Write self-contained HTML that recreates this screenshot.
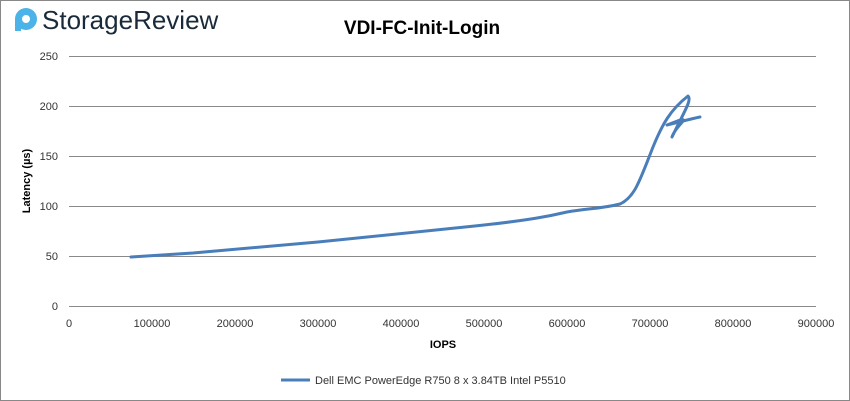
<!DOCTYPE html><html><head><style>body{margin:0;background:#fff}svg{display:block}</style></head><body>
<svg width="850" height="401" xmlns="http://www.w3.org/2000/svg" font-family="Liberation Sans, sans-serif">
<rect x="0.5" y="0.5" width="849" height="400" fill="#fff" stroke="#888"/>
<circle cx="26" cy="19" r="11" fill="#4bb3e8"/><circle cx="26" cy="19" r="4" fill="#fff"/><rect x="15" y="19" width="6" height="12" fill="#4bb3e8"/>
<text x="42" y="29" font-size="26" fill="#1a2a3a">StorageReview</text>
<text x="422" y="34" font-size="19" font-weight="bold" text-anchor="middle">VDI-FC-Init-Login</text>
<g stroke="#898989" stroke-width="1">
<line x1="69" y1="56.5" x2="816" y2="56.5"/><line x1="69" y1="106.5" x2="816" y2="106.5"/><line x1="69" y1="156.5" x2="816" y2="156.5"/><line x1="69" y1="206.5" x2="816" y2="206.5"/><line x1="69" y1="256.5" x2="816" y2="256.5"/><line x1="69" y1="306.5" x2="816" y2="306.5"/>
</g>
<g font-size="11" fill="#333" text-anchor="end"><text x="58" y="60">250</text><text x="58" y="110">200</text><text x="58" y="160">150</text><text x="58" y="210">100</text><text x="58" y="260">50</text><text x="58" y="310">0</text></g>
<g font-size="11" fill="#333" text-anchor="middle"><text x="69" y="327">0</text><text x="152" y="327">100000</text><text x="235" y="327">200000</text><text x="318" y="327">300000</text><text x="401" y="327">400000</text><text x="484" y="327">500000</text><text x="567" y="327">600000</text><text x="650" y="327">700000</text><text x="733" y="327">800000</text><text x="816" y="327">900000</text></g>
<text x="443" y="348" font-size="11" font-weight="bold" text-anchor="middle">IOPS</text>
<text x="30" y="181" font-size="11" font-weight="bold" text-anchor="middle" transform="rotate(-90 30 181)">Latency (µs)</text>
<path d="M131,257 C160,255 180,254 193,253 C240,249 280,245 318,242 C400,234 440,230 484,225 C530,220 550,216 567,212 C590,208 600,209 620,204 C635,197 640,180 653,147 C662,125 670,110 688,96 C692,100 685,110 672,137 C676,125 690,118 680,120 L667,125 C680,122 690,119 700,117" fill="none" stroke="#4a7ebb" stroke-width="3" stroke-linejoin="round" stroke-linecap="round"/>
<line x1="281" y1="380" x2="310" y2="380" stroke="#4a7ebb" stroke-width="3"/>
<text x="315" y="384" font-size="11" fill="#333">Dell EMC PowerEdge R750 8 x 3.84TB Intel P5510</text>
</svg></body></html>
